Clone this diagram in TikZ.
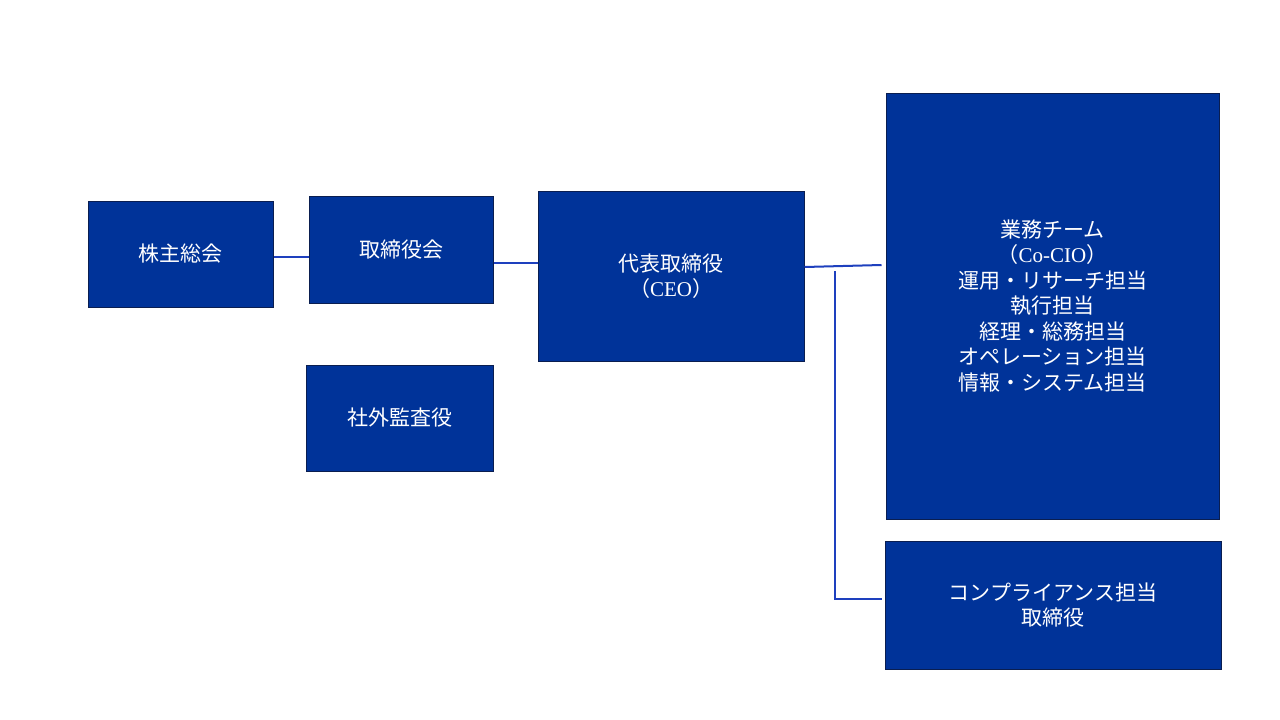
\documentclass[tikz,border=0pt]{standalone}
\usepackage{fontspec}
\setmainfont{Liberation Serif}
\newfontfamily\cjk{Noto Sans CJK JP}
\usepackage{xcolor}
\definecolor{boxblue}{RGB}{0,51,153}
\definecolor{boxedge}{RGB}{10,30,80}
\definecolor{linkblue}{RGB}{30,64,190}

\begin{document}
\begin{tikzpicture}[x=1pt,y=-1pt,
    orgbox/.style={draw=boxedge, line width=1pt, fill=boxblue, text=white,
                   inner sep=0pt, align=center, font=\fontsize{21}{25.5}\selectfont\cjk},
    link/.style={draw=linkblue, line width=2pt}]
      \useasboundingbox (0,0) rectangle (1280,720);

      \node[orgbox, minimum width=185, minimum height=106](Kabu) at (180.5, 254) {株主総会};
      \node[orgbox, minimum width=184, minimum height=107](Torikai) at (401, 249.5) {取締役会};
      \node[orgbox, minimum width=187, minimum height=106](Kansa) at (399.5, 418) {社外監査役};
      \node[orgbox, minimum width=266, minimum height=170](Ceo) at (671, 276)
            {代表取締役\\（{\rmfamily CEO}）};
      \node[orgbox, minimum width=333, minimum height=426](Gyomu) at (1052.5, 306)
            {業務チーム\\（{\rmfamily Co-CIO}）\\運用・リサーチ担当\\執行担当\\経理・総務担当\\オペレーション担当\\情報・システム担当};
      \node[orgbox, minimum width=336, minimum height=128](Comp) at (1053, 605)
            {コンプライアンス担当\\取締役};

      \coordinate(Branch) at (835, 271);

      \draw[link] ([yshift=-3pt]Kabu.east) -- ([yshift=-3pt]Kabu.east -| Torikai.west);
      \draw[link] (Torikai.east |- 0,263) -- (Ceo.west |- 0,263);
      \draw[link] (Ceo.east |- 0,267) -- ([xshift=-4pt]Gyomu.west |- 0,265);
      \draw[link] (Branch) |- ([xshift=-3pt]Comp.west |- 0,599);
\end{tikzpicture}
\end{document}
